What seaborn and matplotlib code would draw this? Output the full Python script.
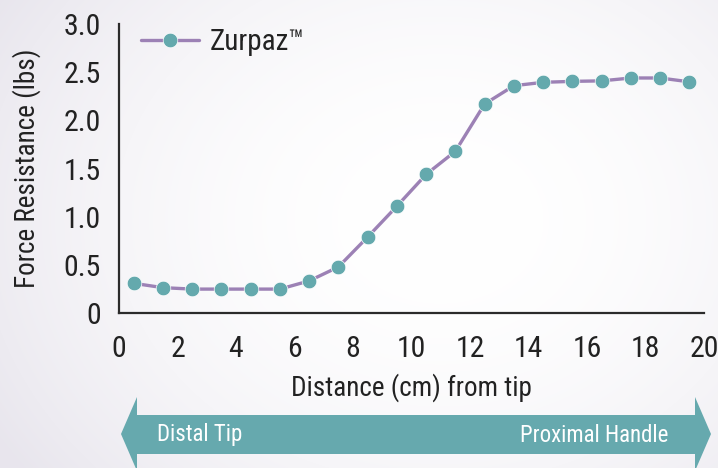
import numpy as np
import pandas as pd
import matplotlib
matplotlib.use("Agg")
import matplotlib.pyplot as plt
import seaborn as sns
from matplotlib.patches import Polygon
from matplotlib import font_manager

distance_cm = [0.5, 1.5, 2.5, 3.5, 4.5, 5.5, 6.5, 7.5, 8.5, 9.5,
               10.5, 11.5, 12.5, 13.5, 14.5, 15.5, 16.5, 17.5, 18.5, 19.5]
force_lbs = [0.31, 0.265, 0.25, 0.25, 0.25, 0.25, 0.335, 0.48, 0.79, 1.11,
             1.44, 1.68, 2.17, 2.36, 2.395, 2.405, 2.41, 2.44, 2.44, 2.40]
series_name = "Zurpaz\u2122"
x_ticks = [0, 2, 4, 6, 8, 10, 12, 14, 16, 18, 20]
y_ticks = [0, 0.5, 1.0, 1.5, 2.0, 2.5, 3.0]
y_tick_labels = ["0", "0.5", "1.0", "1.5", "2.0", "2.5", "3.0"]

sns.set_theme(style="white")
names = {f.name for f in font_manager.fontManager.ttflist}
fam = "DejaVu Sans"
for cand in ["Roboto Condensed", "Archivo Narrow", "Liberation Sans Narrow",
             "Encode Sans Condensed", "Asap Condensed", "Barlow Semi Condensed"]:
    if cand in names:
        fam = cand
        break
plt.rcParams['font.family'] = [fam, 'DejaVu Sans']
if fam == "DejaVu Sans":
    plt.rcParams['font.stretch'] = 'condensed'

W, H = 718, 468
fig = plt.figure(figsize=(W/100, H/100), dpi=100)

# background gradient
bg = fig.add_axes([0, 0, 1, 1], zorder=-10)
yy, xx = np.mgrid[0:H, 0:W]
r = np.sqrt(((xx - 440) / 520.0) ** 2 + ((yy - 220) / 420.0) ** 2)
v = np.clip(r, 0, 1) ** 2.0
c0 = np.array([1.0, 1.0, 1.0])
c1 = np.array([0.91, 0.90, 0.93])
img = c0[None, None, :] * (1 - v[..., None]) + c1[None, None, :] * v[..., None]
bg.imshow(img, aspect='auto', extent=[0, 1, 0, 1], origin='upper')
bg.set_axis_off()

ax = fig.add_axes([119/W, 1 - 313.2/H, (704-119)/W, (313.2-24)/H])
ax.patch.set_alpha(0)
df = pd.DataFrame({"Distance": distance_cm, "Force": force_lbs, "Series": series_name})
sns.lineplot(data=df, x="Distance", y="Force", ax=ax, color="#9c81b5", linewidth=2.4,
             marker="o", markersize=10.5, markerfacecolor="#64a9ad",
             markeredgecolor="white", markeredgewidth=0.5, label=series_name, zorder=3)

ax.set_xlim(0, 20)
ax.set_ylim(0, 3.0)
ax.set_xticks(x_ticks)
ax.set_yticks(y_ticks)
ax.set_yticklabels(y_tick_labels)
for s in ["top", "right"]:
    ax.spines[s].set_visible(False)
for s in ["left", "bottom"]:
    ax.spines[s].set_color("#2b2b2b")
    ax.spines[s].set_linewidth(1.6)
ax.tick_params(axis='both', direction='out', length=10, width=1.6, color="#2b2b2b",
               labelsize=21.5, labelcolor="#222222")
ax.tick_params(axis='x', pad=6)
ax.tick_params(axis='y', pad=3)
ax.set_xlabel("Distance (cm) from tip", fontsize=19.5, color="#222222", labelpad=7)
ax.set_ylabel("Force Resistance (lbs)", fontsize=19.5, color="#222222", labelpad=16)

leg = ax.legend(loc="upper left", bbox_to_anchor=(0.0376, 0.985), frameon=False,
                fontsize=21, handlelength=2.0, handletextpad=0.35, borderaxespad=0.0,
                borderpad=0.0)
for t in leg.get_texts():
    t.set_color("#222222")

# bottom arrow
arr_col = "#66a9ae"
def fx(px):
    return px / W
def fy(py):
    return 1 - py / H
pts = [(fx(121), fy(434)), (fx(137), fy(397)), (fx(137), fy(415)), (fx(695), fy(415)),
       (fx(695), fy(397)), (fx(711), fy(434)), (fx(695), fy(471)), (fx(695), fy(454)),
       (fx(137), fy(454)), (fx(137), fy(471))]
fig.patches.append(Polygon(pts, closed=True, transform=fig.transFigure,
                           facecolor=arr_col, edgecolor='none', zorder=1))
fig.text(fx(157), fy(435), "Distal Tip", color="white", fontsize=16.5, va="center", ha="left")
fig.text(fx(668), fy(435), "Proximal Handle", color="white", fontsize=16.5, va="center", ha="right")

fig.savefig("out.png", dpi=100)
